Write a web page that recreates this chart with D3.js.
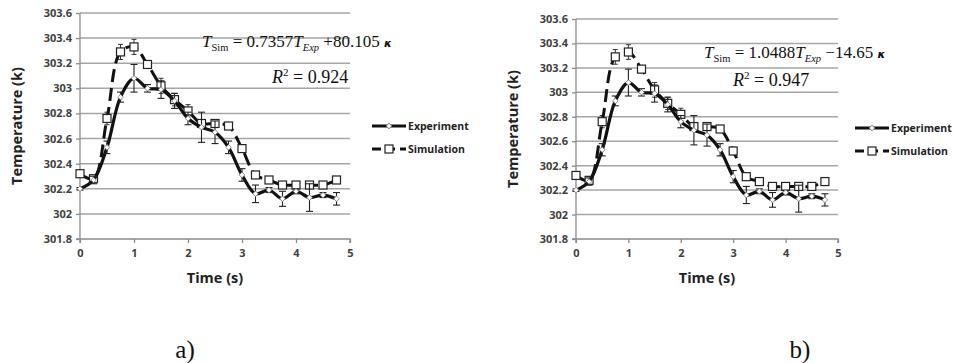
<!DOCTYPE html>
<html>
<head>
  <meta charset="utf-8">
  <title></title>
  <script src="https://cdn.jsdelivr.net/npm/d3@7"></script>
  <style>
    body { margin: 0; background: white; }
    .tick text { font-family: "Open Sans", sans-serif; font-weight: bold; font-size: 11px; fill: #404040; }
    .axtitle { font-family: "Open Sans", sans-serif; font-weight: bold; font-size: 14.5px; fill: #222; }
    .legend text { font-family: "Open Sans", sans-serif; font-weight: bold; font-size: 10.5px; fill: #222; }
    .eq { font-family: "Liberation Serif", "Times New Roman", serif; fill: #111; }
    .panelLabel { font-family: "Liberation Serif", serif; font-size: 25px; fill: #111; }
  </style>
</head>
<body>
<svg id="chart" width="955" height="363"></svg>
<script>
// time points (s)
var times = [0, 0.25, 0.5, 0.75, 1, 1.25, 1.5, 1.75, 2, 2.25, 2.5, 2.75, 3, 3.25, 3.5, 3.75, 4, 4.25, 4.5, 4.75]
// experiment temperature (k) and error
var experiment = [302.2, 302.27, 302.53, 302.93, 303.08, 303.0, 302.99, 302.9, 302.76, 302.69, 302.65, 302.53, 302.31, 302.16, 302.19, 302.12, 302.18, 302.13, 302.15, 302.12]
var experimentErr = [0.01, 0.03, 0.05, 0.04, 0.11, 0.03, 0.07, 0.06, 0.05, 0.12, 0.09, 0.05, 0.05, 0.07, 0.02, 0.06, 0.02, 0.11, 0.02, 0.05]
// simulation temperature (k) and error
var simulation = [302.32, 302.28, 302.76, 303.29, 303.33, 303.19, 303.02, 302.91, 302.82, 302.72, 302.72, 302.7, 302.52, 302.31, 302.27, 302.23, 302.23, 302.23, 302.23, 302.27]
var simulationErr = [0.02, 0.02, 0.05, 0.06, 0.06, 0.02, 0.06, 0.05, 0.05, 0.03, 0.03, 0.02, 0.03, 0.02, 0.02, 0.02, 0.02, 0.02, 0.02, 0.02]

var yTicks = [301.8, 302, 302.2, 302.4, 302.6, 302.8, 303, 303.2, 303.4, 303.6]
var yTickLabels = ["301.8", "302", "302.2", "302.4", "302.6", "302.8", "303", "303.2", "303.4", "303.6"]
var xTicks = [0, 1, 2, 3, 4, 5]
var seriesNames = ["Experiment", "Simulation"]

var svg = d3.select("#chart")

function drawPanel(p) {
  var x = d3.scaleLinear().domain([0, 5]).range([p.x0, p.x1])
  var y = d3.scaleLinear().domain([301.8, 303.6]).range([p.y0, p.y1])
  var g = svg.append("g")

  // gridlines
  g.selectAll(".grid").data(yTicks.slice(1)).enter().append("line")
    .attr("x1", p.x0).attr("x2", p.x1)
    .attr("y1", d => y(d)).attr("y2", d => y(d))
    .attr("stroke", "#a6a6a6").attr("stroke-width", 1.5)

  var yAxis = g.append("g").attr("transform", "translate(" + p.x0 + ",0)")
    .call(d3.axisLeft(y).tickValues(yTicks).tickSize(4).tickPadding(4)
      .tickFormat((d, i) => yTickLabels[i]))
  var xAxis = g.append("g").attr("transform", "translate(0," + p.y0 + ")")
    .call(d3.axisBottom(x).tickValues(xTicks).tickSize(4).tickPadding(6).tickFormat(d3.format("d")))
  g.selectAll(".domain, .tick line").attr("stroke", "#8c8c8c").attr("stroke-width", 1.3)
  yAxis.select(".domain").attr("d", "M-4," + p.y0 + "H0V" + p.y1)
  xAxis.select(".domain").attr("d", "M" + p.x0 + ",4V0H" + p.x1 + "V4")

  g.append("text").attr("class", "axtitle")
    .attr("x", (p.x0 + p.x1) / 2).attr("y", p.y0 + 44)
    .attr("text-anchor", "middle").text("Time (s)")
  g.append("text").attr("class", "axtitle")
    .attr("transform", "translate(" + (p.x0 - 58) + "," + ((p.y0 + p.y1) / 2) + ") rotate(-90)")
    .attr("text-anchor", "middle").text("Temperature (k)")

  var curve = d3.line().x((d, i) => x(times[i])).y(d => y(d)).curve(d3.curveCatmullRom.alpha(0.5))

  // simulation error bars
  times.forEach(function(t, i) {
    var cx = x(t)
    g.append("line").attr("x1", cx).attr("x2", cx)
      .attr("y1", y(simulation[i] - simulationErr[i])).attr("y2", y(simulation[i] + simulationErr[i]))
      .attr("stroke", "#333").attr("stroke-width", 1)
    ;[-1, 1].forEach(function(s) {
      g.append("line").attr("x1", cx - 2.5).attr("x2", cx + 2.5)
        .attr("y1", y(simulation[i] + s * simulationErr[i])).attr("y2", y(simulation[i] + s * simulationErr[i]))
        .attr("stroke", "#333").attr("stroke-width", 1)
    })
  })

  g.append("path").datum(simulation).attr("d", curve)
    .attr("fill", "none").attr("stroke", "#111").attr("stroke-width", 3)
    .attr("stroke-dasharray", "13,6")

  g.selectAll(".sq").data(simulation).enter().append("rect")
    .attr("x", (d, i) => x(times[i]) - 4).attr("y", d => y(d) - 4)
    .attr("width", 8).attr("height", 8)
    .attr("fill", "white").attr("stroke", "#222").attr("stroke-width", 1.2)

  g.append("path").datum(experiment).attr("d", curve)
    .attr("fill", "none").attr("stroke", "#111").attr("stroke-width", 3.2)

  // experiment error bars
  times.forEach(function(t, i) {
    var cx = x(t)
    g.append("line").attr("x1", cx).attr("x2", cx)
      .attr("y1", y(experiment[i] - experimentErr[i])).attr("y2", y(experiment[i] + experimentErr[i]))
      .attr("stroke", "#222").attr("stroke-width", 1.1)
    ;[-1, 1].forEach(function(s) {
      g.append("line").attr("x1", cx - 3.5).attr("x2", cx + 3.5)
        .attr("y1", y(experiment[i] + s * experimentErr[i])).attr("y2", y(experiment[i] + s * experimentErr[i]))
        .attr("stroke", "#222").attr("stroke-width", 1.1)
    })
  })

  g.selectAll(".dm").data(experiment).enter().append("path")
    .attr("d", d3.symbol(d3.symbolDiamond2, 20))
    .attr("transform", (d, i) => "translate(" + x(times[i]) + "," + y(d) + ")")
    .attr("fill", "white").attr("stroke", "#777").attr("stroke-width", 0.8)

  // legend
  var lg = g.append("g").attr("class", "legend")
  seriesNames.forEach(function(name, i) {
    var ly = p.legY + i * 23
    lg.append("line").attr("x1", p.legX).attr("x2", p.legX + 34)
      .attr("y1", ly).attr("y2", ly)
      .attr("stroke", "#111").attr("stroke-width", 3)
      .attr("stroke-dasharray", i === 1 ? "9,5" : null)
    if (i === 0) {
      lg.append("path").attr("d", d3.symbol(d3.symbolDiamond2, 20))
        .attr("transform", "translate(" + (p.legX + 17) + "," + ly + ")")
        .attr("fill", "white").attr("stroke", "#777")
    } else {
      lg.append("rect").attr("x", p.legX + 13).attr("y", ly - 4).attr("width", 8).attr("height", 8)
        .attr("fill", "white").attr("stroke", "#222").attr("stroke-width", 1.2)
    }
    lg.append("text").attr("x", p.legX + 36).attr("y", ly + 4).text(name)
  })

  // regression equation
  var eq = g.append("text").attr("class", "eq").attr("x", p.eqX).attr("y", p.eqY).attr("font-size", 17)
  eq.append("tspan").attr("font-style", "italic").text("T")
  eq.append("tspan").attr("font-size", 10.5).attr("dy", 4).text("Sim")
  eq.append("tspan").attr("dy", -4).text(" = " + p.slope)
  eq.append("tspan").attr("font-style", "italic").text("T")
  eq.append("tspan").attr("font-style", "italic").attr("font-size", 10.5).attr("dy", 4).text("Exp")
  eq.append("tspan").attr("dy", -4).text(" " + p.icpt + " ")
  eq.append("tspan").attr("font-family", "DejaVu Sans").attr("font-weight", "bold")
    .attr("font-style", "italic").attr("font-size", 11).text("κ")

  var r2 = g.append("text").attr("class", "eq").attr("x", p.r2X).attr("y", p.r2Y).attr("font-size", 18)
  r2.append("tspan").attr("font-style", "italic").text("R")
  r2.append("tspan").attr("font-size", 11).attr("dy", -7).text("2")
  r2.append("tspan").attr("dy", 7).text(" = " + p.r2)
}

drawPanel({x0: 80, x1: 350, y0: 239, y1: 13, legX: 372, legY: 126,
  eqX: 202, eqY: 47, slope: "0.7357", icpt: "+80.105", r2X: 272, r2Y: 83, r2: "0.924"})
drawPanel({x0: 576, x1: 838, y0: 239, y1: 19, legX: 855, legY: 128,
  eqX: 704, eqY: 58, slope: "1.0488", icpt: "\u221214.65", r2X: 733, r2Y: 86, r2: "0.947"})

svg.append("text").attr("class", "panelLabel").attr("x", 185).attr("y", 358).attr("text-anchor", "middle").text("a)")
svg.append("text").attr("class", "panelLabel").attr("x", 800).attr("y", 358).attr("text-anchor", "middle").text("b)")
</script>
</body>
</html>
